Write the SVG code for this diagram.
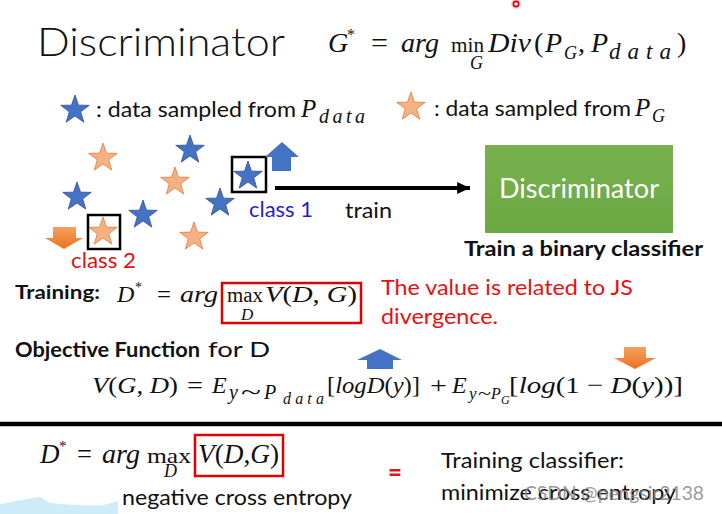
<svg xmlns="http://www.w3.org/2000/svg" xmlns:xlink="http://www.w3.org/1999/xlink" width="722" height="514" viewBox="0 0 722 514">
<style>
.t{font-family:Lato,"Liberation Sans",sans-serif;fill:#111}
.b{font-weight:bold}
.m{font-family:"Liberation Serif",serif;fill:#111}
.i{font-style:italic}
.blue{fill:#4472C4;stroke:#2F528F;stroke-width:0.8}
.orange{fill:#F4B183;stroke:#E07B39;stroke-width:0.8}
.sel{fill:none;stroke:#000;stroke-width:2.5}
.rbox{fill:none;stroke:#E00000;stroke-width:2.5}
</style>
<defs>
<path id="star" d="M0,-15 L3.53,-4.85 L14.27,-4.64 L5.71,1.85 L8.82,12.14 L0,6 L-8.82,12.14 L-5.71,1.85 L-14.27,-4.64 L-3.53,-4.85 Z"/>
<linearGradient id="og" x1="0" y1="0" x2="0" y2="1"><stop offset="0" stop-color="#F5A15E"/><stop offset="1" stop-color="#EB7320"/></linearGradient>
<linearGradient id="gg" x1="0" y1="0" x2="0" y2="1"><stop offset="0" stop-color="#77B14E"/><stop offset="1" stop-color="#6CA942"/></linearGradient>
<marker id="ah" markerWidth="4" markerHeight="4" refX="3.2" refY="2" orient="auto" markerUnits="strokeWidth"><path d="M0,0.5 L3.2,2 L0,3.5 Z" fill="#000"/></marker>
</defs>
<rect width="722" height="514" fill="#fff"/>

<!-- artifacts -->
<circle cx="516" cy="4" r="5" fill="#ff3030" opacity="0.25"/>
<circle cx="516" cy="4" r="2.6" fill="#fff" stroke="#e00000" stroke-width="1.6"/>
<path d="M0,504 C15,501 28,499 38,497 C42,497 44,500 50,503 C70,505 95,506 104,505 C110,503 114,502 118,501 L118,514 L0,514 Z" fill="#CDEBF8"/>

<!-- title -->
<g id="title">
<text class="t" x="37" y="56" font-size="40" font-weight="300" textLength="248" lengthAdjust="spacingAndGlyphs">Discriminator</text>
</g>

<!-- G* formula -->
<g id="gstar" class="m" font-size="28">
<text class="i" x="328" y="52">G</text>
<text x="347" y="40" font-size="16">*</text>
<text x="371" y="52" textLength="17" lengthAdjust="spacingAndGlyphs">=</text>
<text class="i" x="401" y="52" textLength="38" lengthAdjust="spacingAndGlyphs">arg</text>
<text x="451" y="52" font-size="22" textLength="33" lengthAdjust="spacingAndGlyphs">min</text>
<text class="i" x="470" y="69" font-size="18">G</text>
<text class="i" x="488" y="52" textLength="43" lengthAdjust="spacingAndGlyphs">Div</text>
<text x="534" y="52">(</text>
<text class="i" x="545" y="52">P</text>
<text class="i" x="564" y="59" font-size="18">G</text>
<text x="578" y="52">,</text>
<text class="i" x="591" y="52">P</text>
<text class="i" x="609" y="59" font-size="23" textLength="62" lengthAdjust="spacing">data</text>
<text x="677" y="52">)</text>
</g>

<!-- legend -->
<g id="legend-data">
<use xlink:href="#star" class="blue" transform="translate(75,110)"/>
<text class="t" x="96" y="117" font-size="22" textLength="200" lengthAdjust="spacingAndGlyphs">: data sampled from</text>
<text class="m i" x="301" y="117" font-size="25">P</text>
<text class="m i" x="319" y="123" font-size="20" textLength="46" lengthAdjust="spacing">data</text>
</g>
<g id="legend-g">
<use xlink:href="#star" class="orange" transform="translate(411,107)"/>
<text class="t" x="434" y="116" font-size="22" textLength="197" lengthAdjust="spacingAndGlyphs">: data sampled from</text>
<text class="m i" x="635" y="116" font-size="25">P</text>
<text class="m i" x="652" y="122" font-size="18">G</text>
</g>

<!-- sample stars -->
<g id="samples">
<use xlink:href="#star" class="orange" transform="translate(103,158)"/>
<use xlink:href="#star" class="blue" transform="translate(190,150)"/>
<use xlink:href="#star" class="orange" transform="translate(175,182)"/>
<use xlink:href="#star" class="blue" transform="translate(77,197)"/>
<use xlink:href="#star" class="blue" transform="translate(143,215)"/>
<use xlink:href="#star" class="blue" transform="translate(220,203)"/>
<use xlink:href="#star" class="orange" transform="translate(194,237)"/>
</g>

<g id="class1">
<use xlink:href="#star" class="blue" transform="translate(248,176)"/>
<rect class="sel" x="232" y="157" width="34" height="35"/>
<polygon points="282,142 299,157 291,157 291,171 272,171 272,157 265,157" fill="#4472C4"/>
<text class="t" x="249" y="217" font-size="21" style="fill:#1F1FD1" textLength="64" lengthAdjust="spacingAndGlyphs">class 1</text>
</g>

<g id="class2">
<use xlink:href="#star" class="orange" transform="translate(103,232)"/>
<rect class="sel" x="88" y="215" width="32" height="34"/>
<polygon points="53,227 76,227 76,238 83,238 64,249 45,238 53,238" fill="url(#og)"/>
<text class="t" x="71" y="268" font-size="21" style="fill:#E01010" textLength="65" lengthAdjust="spacingAndGlyphs">class 2</text>
</g>

<!-- connectors -->
<g id="connectors">
<line x1="275" y1="188" x2="470" y2="188" stroke="#000" stroke-width="4" marker-end="url(#ah)"/>
<text class="t" x="345" y="218" font-size="21" textLength="47" lengthAdjust="spacingAndGlyphs">train</text>
</g>

<g id="discriminator">
<rect x="485" y="145" width="188" height="88" fill="url(#gg)"/>
<text class="t" x="579" y="198" font-size="26" text-anchor="middle" style="fill:#fff" textLength="160" lengthAdjust="spacingAndGlyphs">Discriminator</text>
<text class="t b" x="464" y="256" font-size="21" textLength="239" lengthAdjust="spacingAndGlyphs">Train a binary classifier</text>
</g>

<!-- training -->
<g id="training">
<text class="t b" x="15" y="299" font-size="19" textLength="85" lengthAdjust="spacingAndGlyphs">Training:</text>
<g class="m" font-size="24">
<text class="i" x="117" y="302">D</text>
<text x="135" y="292" font-size="14">*</text>
<text x="157" y="302" textLength="14" lengthAdjust="spacingAndGlyphs">=</text>
<text class="i" x="180" y="302" textLength="38" lengthAdjust="spacingAndGlyphs">arg</text>
<text x="227" y="302" font-size="20" textLength="36" lengthAdjust="spacingAndGlyphs">max</text>
<text class="i" x="241" y="320" font-size="17">D</text>
<text x="265" y="302" textLength="92" lengthAdjust="spacingAndGlyphs"><tspan class="i">V</tspan>(<tspan class="i">D</tspan>, <tspan class="i">G</tspan>)</text>
</g>
<rect class="rbox" x="222" y="283" width="139" height="40"/>
<text class="t" x="381" y="295" font-size="21" style="fill:#E81010" textLength="252" lengthAdjust="spacingAndGlyphs">The value is related to JS</text>
<text class="t" x="381" y="324" font-size="21" style="fill:#E81010" textLength="117" lengthAdjust="spacingAndGlyphs">divergence.</text>
</g>

<!-- objective -->
<g id="objective">
<text class="t b" x="15" y="357" font-size="21" textLength="185" lengthAdjust="spacingAndGlyphs">Objective Function</text>
<text class="t" x="208" y="357" font-size="21" textLength="62" lengthAdjust="spacingAndGlyphs">for D</text>
<polygon points="380,349 402,360 393,360 393,369 367,369 367,360 357,360" fill="#4472C4"/>
<polygon points="624,347 646,347 646,358 656,358 635,369 614,358 624,358" fill="url(#og)"/>
<g class="m" font-size="24">
<text x="92" y="393" textLength="86" lengthAdjust="spacingAndGlyphs"><tspan class="i">V</tspan>(<tspan class="i">G</tspan>, <tspan class="i">D</tspan>)</text>
<text x="187" y="393" textLength="16" lengthAdjust="spacingAndGlyphs">=</text>
<text class="i" x="212" y="393">E</text>
<text class="i" x="229" y="399" font-size="20">y</text>
<text x="241" y="399" font-size="20" textLength="20" lengthAdjust="spacingAndGlyphs">~</text>
<text class="i" x="264" y="399" font-size="20">P</text>
<text class="i" x="283" y="404" font-size="16" textLength="41" lengthAdjust="spacing">data</text>
<text x="327" y="393" textLength="93" lengthAdjust="spacingAndGlyphs">[<tspan class="i">logD</tspan>(<tspan class="i">y</tspan>)]</text>
<text x="430" y="393" textLength="17" lengthAdjust="spacingAndGlyphs">+</text>
<text class="i" x="452" y="393">E</text>
<text class="i" x="469" y="399" font-size="17">y</text>
<text x="478" y="399" font-size="17" textLength="13" lengthAdjust="spacingAndGlyphs">~</text>
<text class="i" x="491" y="399" font-size="16">P</text>
<text class="i" x="501" y="404" font-size="12">G</text>
<text x="509" y="393" textLength="174" lengthAdjust="spacingAndGlyphs">[<tspan class="i">log</tspan>(1 − <tspan class="i">D</tspan>(<tspan class="i">y</tspan>))]</text>
</g>
</g>

<line x1="0" y1="424" x2="722" y2="424" stroke="#000" stroke-width="4.5"/>

<!-- bottom -->
<g id="bottom-left">
<g class="m" font-size="27">
<text class="i" x="40" y="463">D</text>
<text x="59" y="451" font-size="15">*</text>
<text x="77" y="463" textLength="15" lengthAdjust="spacingAndGlyphs">=</text>
<text class="i" x="102" y="463" textLength="38" lengthAdjust="spacingAndGlyphs">arg</text>
<text x="147" y="463" font-size="22" textLength="44" lengthAdjust="spacingAndGlyphs">max</text>
<text class="i" x="164" y="477" font-size="18">D</text>
<text x="198" y="463" textLength="81" lengthAdjust="spacingAndGlyphs"><tspan class="i">V</tspan>(<tspan class="i">D</tspan>,<tspan class="i">G</tspan>)</text>
</g>
<rect class="rbox" x="195" y="435" width="88" height="41"/>
<text class="t" x="122" y="505" font-size="21" textLength="230" lengthAdjust="spacingAndGlyphs">negative cross entropy</text>
</g>
<g id="bottom-right">
<text class="t b" x="388" y="481" font-size="26" style="fill:#E81010" textLength="14" lengthAdjust="spacingAndGlyphs">=</text>
<text class="t" x="441" y="468" font-size="21" textLength="183" lengthAdjust="spacingAndGlyphs">Training classifier:</text>
<text class="t" x="441" y="500" font-size="21" textLength="235" lengthAdjust="spacingAndGlyphs">minimize cross entropy</text>
<text class="t" x="524" y="500" font-size="20" style="fill:#8a8a8a" opacity="0.85" textLength="180" lengthAdjust="spacingAndGlyphs">CSDN @pengsir2138</text>
</g>
</svg>
